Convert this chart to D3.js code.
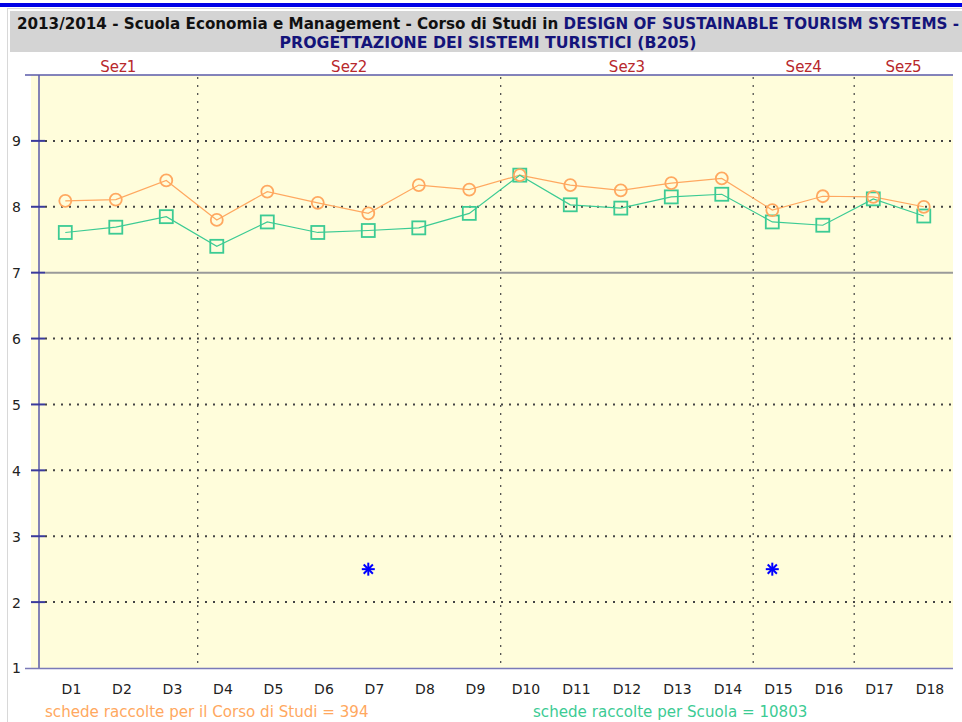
<!DOCTYPE html>
<html>
<head>
<meta charset="utf-8">
<script src="https://cdn.jsdelivr.net/npm/d3@7"></script>
<style>
  body { margin: 0; background: #fff; }
  svg { display: block; }
</style>
</head>
<body>
<div id="chart"></div>
<script>
// values
const labels = ['D1','D2','D3','D4','D5','D6','D7','D8','D9','D10','D11','D12','D13','D14','D15','D16','D17','D18'];
const corsoValues = [8.09, 8.11, 8.40, 7.80, 8.23, 8.06, 7.90, 8.33, 8.26, 8.48, 8.33, 8.25, 8.36, 8.43, 7.95, 8.16, 8.15, 8.00];
const scuolaValues = [7.61, 7.69, 7.85, 7.40, 7.77, 7.61, 7.64, 7.68, 7.90, 8.48, 8.03, 7.98, 8.15, 8.19, 7.77, 7.72, 8.12, 7.86];
const starLabels = ['D7', 'D15'];
const starValues = [2.5, 2.5];
const sectionNames = ['Sez1', 'Sez2', 'Sez3', 'Sez4', 'Sez5'];
const sectionFirst = ['D1', 'D4', 'D10', 'D15', 'D17'];
const sectionLast = ['D3', 'D9', 'D14', 'D16', 'D18'];
const yTicks = [1, 2, 3, 4, 5, 6, 7, 8, 9];
const corsoCount = 394;
const scuolaCount = 10803;

const W = 962, H = 722;
const plotLeft = 31, plotRight = 953, plotTop = 75, plotBottom = 668;
const axisX = 39;
const ORANGE = '#ffa860', GREEN = '#3ccb94', NAVY = '#14147a', AXIS = '#5a5aa8';

const svg = d3.select('#chart').append('svg').attr('width', W).attr('height', H);

// page frame
svg.append('rect').attr('x', 0).attr('y', 3).attr('width', W).attr('height', 4).attr('fill', '#0000e6');
svg.append('line').attr('x1', 7.5).attr('x2', 7.5).attr('y1', 8).attr('y2', H).attr('stroke', '#d8d8d8');
svg.append('line').attr('x1', 7).attr('x2', W).attr('y1', 8.5).attr('y2', 8.5).attr('stroke', '#d8d8d8');
svg.append('rect').attr('x', 10).attr('y', 11).attr('width', W - 10).attr('height', 41).attr('fill', '#d4d4d4');

const title1 = svg.append('text')
  .attr('x', 488).attr('y', 29).attr('text-anchor', 'middle')
  .attr('font-family', '"DejaVu Sans Condensed", "DejaVu Sans", sans-serif')
  .attr('font-weight', 'bold').attr('font-size', 15)
  .attr('textLength', 942).attr('lengthAdjust', 'spacingAndGlyphs');
title1.append('tspan').attr('fill', '#111').text('2013/2014 - Scuola Economia e Management - Corso di Studi in ');
title1.append('tspan').attr('fill', NAVY).text('DESIGN OF SUSTAINABLE TOURISM SYSTEMS -');

svg.append('text')
  .attr('x', 488).attr('y', 48).attr('text-anchor', 'middle')
  .attr('font-family', '"DejaVu Sans Condensed", "DejaVu Sans", sans-serif')
  .attr('font-weight', 'bold').attr('font-size', 15).attr('fill', NAVY)
  .attr('textLength', 417).attr('lengthAdjust', 'spacingAndGlyphs')
  .text('PROGETTAZIONE DEI SISTEMI TURISTICI (B205)');

// scales
const x = d3.scaleBand().domain(labels).range([46.2, 955.2]).padding(0);
const markX = d => x(d) + x.bandwidth() * 0.378;
const y = d3.scaleLinear().domain([1, 10]).range([plotBottom, plotTop]);

// plot background
svg.append('rect')
  .attr('x', plotLeft).attr('y', plotTop)
  .attr('width', plotRight - plotLeft).attr('height', plotBottom - plotTop)
  .attr('fill', '#fffddb');

// horizontal grid
const g = svg.append('g');
g.selectAll('.hgrid')
  .data(yTicks.filter(v => v > 1))
  .join('line')
  .attr('class', 'hgrid')
  .attr('x1', 45).attr('x2', plotRight)
  .attr('y1', d => y(d)).attr('y2', d => y(d))
  .attr('stroke', d => d === 7 ? '#9a9a9a' : '#444')
  .attr('stroke-width', 2)
  .attr('stroke-dasharray', d => d === 7 ? null : '2,6');

// section separators
const sepPositions = sectionFirst.slice(1).map(d => x(d));
g.selectAll('.vsep')
  .data(sepPositions)
  .join('line')
  .attr('class', 'vsep')
  .attr('x1', d => d).attr('x2', d => d)
  .attr('y1', plotTop + 2).attr('y2', plotBottom)
  .attr('stroke', '#444').attr('stroke-width', 1.2)
  .attr('stroke-dasharray', '2,6');

// section labels
svg.selectAll('.sez')
  .data(sectionNames)
  .join('text')
  .attr('class', 'sez')
  .attr('x', (d, i) => {
    const a = i === 0 ? axisX : x(sectionFirst[i]);
    const b = i === sectionNames.length - 1 ? plotRight : x(sectionLast[i]) + x.bandwidth();
    return (a + b) / 2;
  })
  .attr('y', 72)
  .attr('text-anchor', 'middle')
  .attr('font-family', '"DejaVu Sans", Verdana, sans-serif')
  .attr('font-size', 15)
  .attr('fill', '#b8282c')
  .text(d => d);

// axes frame
svg.append('line').attr('x1', 25).attr('x2', plotRight).attr('y1', plotTop).attr('y2', plotTop)
  .attr('stroke', AXIS).attr('stroke-width', 1.5);
svg.append('line').attr('x1', axisX).attr('x2', axisX).attr('y1', plotTop).attr('y2', plotBottom)
  .attr('stroke', AXIS).attr('stroke-width', 1.5);
svg.append('line').attr('x1', 25).attr('x2', plotRight).attr('y1', plotBottom + 0.5).attr('y2', plotBottom + 0.5)
  .attr('stroke', '#7a7ab8').attr('stroke-width', 1.5);

// y axis ticks
const yAxis = d3.axisLeft(y).tickValues(yTicks).tickSize(0).tickPadding(0).tickFormat(d3.format('d'));
const yG = svg.append('g').attr('transform', `translate(21,0)`).call(yAxis);
yG.select('.domain').remove();
yG.selectAll('text')
  .attr('font-family', '"DejaVu Sans", Verdana, sans-serif')
  .attr('font-size', 14).attr('fill', '#222').attr('dy', '0.35em');
svg.selectAll('.ytick')
  .data(yTicks.filter(v => v > 1))
  .join('line')
  .attr('class', 'ytick')
  .attr('x1', plotLeft).attr('x2', 45)
  .attr('y1', d => y(d)).attr('y2', d => y(d))
  .attr('stroke', '#3a3a9c').attr('stroke-width', 2);

// x axis labels
const xAxis = d3.axisBottom(x).tickSize(0).tickPadding(0);
const xG = svg.append('g').attr('transform', `translate(0,${plotBottom + 21})`).call(xAxis);
xG.select('.domain').remove();
xG.selectAll('text')
  .attr('font-family', '"DejaVu Sans", Verdana, sans-serif')
  .attr('font-size', 14).attr('fill', '#222').attr('dy', '0.35em');

// series
const line = d3.line().x((d, i) => markX(labels[i])).y(d => y(d));

svg.append('path').datum(corsoValues)
  .attr('d', line).attr('fill', 'none').attr('stroke', ORANGE).attr('stroke-width', 1.2);
svg.append('path').datum(scuolaValues)
  .attr('d', line).attr('fill', 'none').attr('stroke', GREEN).attr('stroke-width', 1.2);

svg.selectAll('.sq')
  .data(scuolaValues)
  .join('rect')
  .attr('class', 'sq')
  .attr('x', (d, i) => markX(labels[i]) - 6.5)
  .attr('y', d => y(d) - 6.5)
  .attr('width', 13).attr('height', 13)
  .attr('fill', 'none').attr('stroke', GREEN).attr('stroke-width', 1.8);

svg.selectAll('.circ')
  .data(corsoValues)
  .join('circle')
  .attr('class', 'circ')
  .attr('cx', (d, i) => markX(labels[i]))
  .attr('cy', d => y(d))
  .attr('r', 6)
  .attr('fill', 'none').attr('stroke', ORANGE).attr('stroke-width', 1.8);

// asterisks
const star = svg.selectAll('.star')
  .data(starValues)
  .join('g')
  .attr('class', 'star')
  .attr('transform', (d, i) => `translate(${markX(starLabels[i])},${y(d)})`);
[0, 45, 90, 135].forEach(angle => {
  star.append('line')
    .attr('x1', -6.5).attr('x2', 6.5).attr('y1', 0).attr('y2', 0)
    .attr('transform', `rotate(${angle})`)
    .attr('stroke', '#0000ff').attr('stroke-width', 2);
});

// footer
svg.append('text')
  .attr('x', 45).attr('y', 717)
  .attr('font-family', '"DejaVu Sans", Verdana, sans-serif')
  .attr('font-size', 15.1).attr('fill', ORANGE)
  .text(`schede raccolte per il Corso di Studi = ${corsoCount}`);
svg.append('text')
  .attr('x', 533).attr('y', 717)
  .attr('font-family', '"DejaVu Sans", Verdana, sans-serif')
  .attr('font-size', 15.1).attr('fill', GREEN)
  .text(`schede raccolte per Scuola = ${scuolaCount}`);
</script>
</body>
</html>
